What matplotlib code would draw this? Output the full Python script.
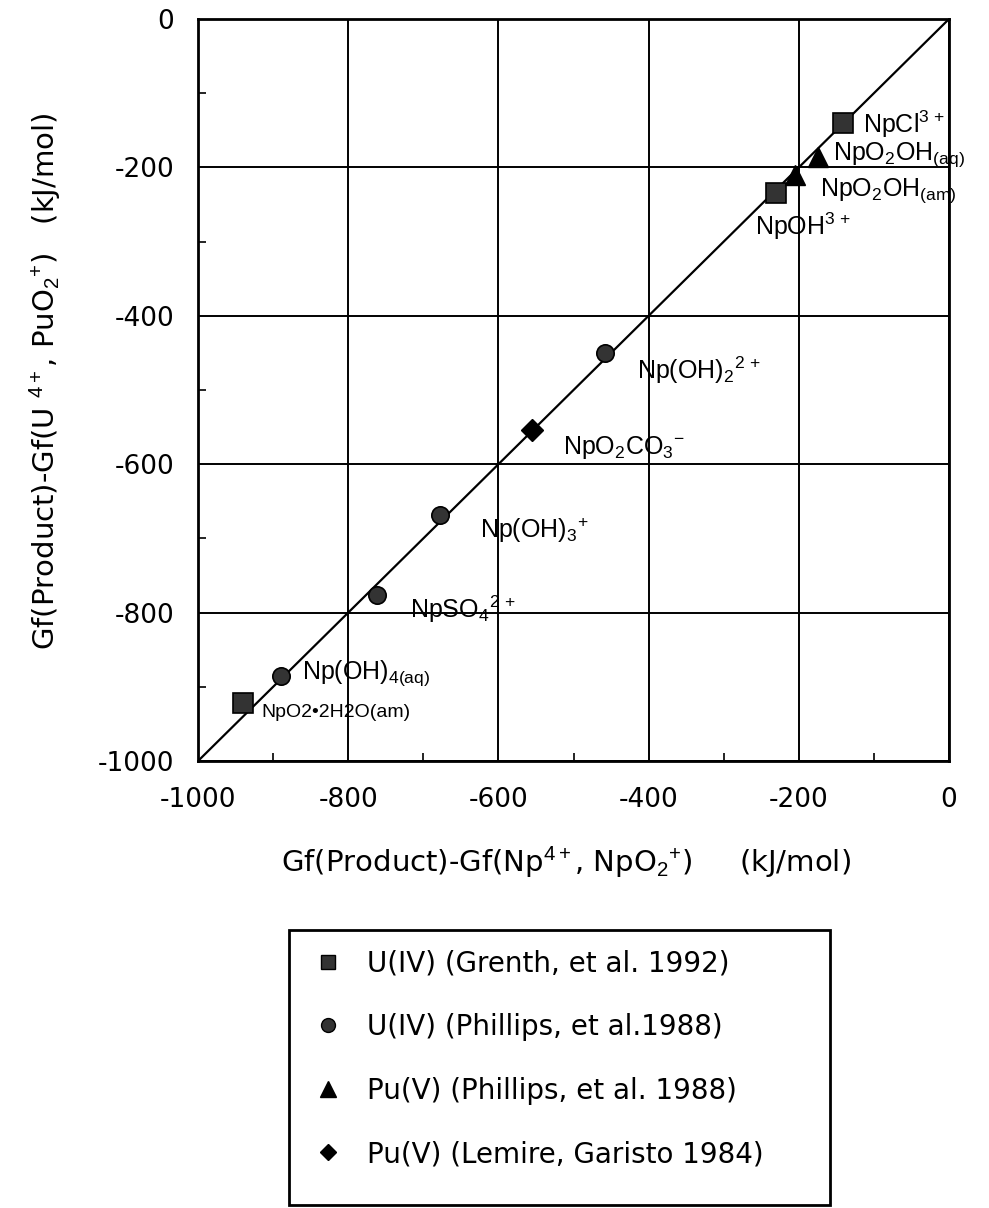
import numpy as np
import matplotlib
matplotlib.use("Agg")
import matplotlib.pyplot as plt
from matplotlib.lines import Line2D
from matplotlib.patches import Rectangle
from matplotlib.ticker import MultipleLocator

plt.rcParams['font.family'] = ['DejaVu Sans']
plt.rcParams['axes.unicode_minus'] = False
plt.rcParams['mathtext.fontset'] = 'custom'
plt.rcParams['mathtext.rm'] = 'Liberation Sans'
plt.rcParams['mathtext.it'] = 'Liberation Sans'

# data (kJ/mol)
u4_grenth_x = [-141, -230, -940]
u4_grenth_y = [-140, -235, -922]
u4_phillips_x = [-458, -678, -762, -890]
u4_phillips_y = [-450, -668, -776, -885]
pu5_phillips_x = [-174, -205]
pu5_phillips_y = [-186, -210]
pu5_lemire_x = [-555]
pu5_lemire_y = [-554]

labels = ["NpCl$^{3\\,+}$", "NpO$_2$OH$_{(aq)}$", "NpO$_2$OH$_{(am)}$", "NpOH$^{3\\,+}$",
          "Np(OH)$_2$$^{2\\,+}$", "NpO$_2$CO$_3$$^{-}$", "Np(OH)$_3$$^{+}$", "NpSO$_4$$^{2\\,+}$",
          "Np(OH)$_{4(aq)}$", "NpO2•2H2O(am)"]
label_x = [-115, -154, -172, -258, -415, -514, -624, -718, -862, -915]
label_y = [-142, -183, -232, -279, -473, -577, -689, -795, -882, -935]

legend_labels = ["U(IV) (Grenth, et al. 1992)", "U(IV) (Phillips, et al.1988)",
                 "Pu(V) (Phillips, et al. 1988)", "Pu(V) (Lemire, Garisto 1984)"]

fig = plt.figure(figsize=(9.89, 12.08), dpi=100)
ax = fig.add_axes([0.2002, 0.370, 0.7594, 0.6143])

ax.plot([-1000, 0], [-1000, 0], color='black', lw=1.6, zorder=2)
ax.plot(u4_grenth_x, u4_grenth_y, 's', ms=14, mfc='#333333', mec='black', mew=1.2, zorder=3)
ax.plot(u4_phillips_x, u4_phillips_y, 'o', ms=12.5, mfc='#333333', mec='black', mew=1.2, zorder=3)
ax.plot(pu5_phillips_x, pu5_phillips_y, '^', ms=15, color='black', zorder=3)
ax.plot(pu5_lemire_x, pu5_lemire_y, 'D', ms=11, color='black', zorder=3)

for t, x, y in zip(labels, label_x, label_y):
    fs = 14 if t.startswith("NpO2•") else 18
    ax.text(x, y, t, fontsize=fs, va='center', ha='left', family='Liberation Sans', zorder=4)

ax.set_xlim(-1000, 0)
ax.set_ylim(-1000, 0)
ax.xaxis.set_major_locator(MultipleLocator(200))
ax.yaxis.set_major_locator(MultipleLocator(200))
ax.yaxis.set_minor_locator(MultipleLocator(100))
ax.xaxis.set_minor_locator(MultipleLocator(100))
ax.grid(True, which='major', color='black', lw=1.4)
ax.tick_params(which='major', length=0, labelsize=19)
ax.tick_params(axis='x', which='major', pad=19)
ax.tick_params(axis='y', which='major', pad=17)
ax.tick_params(which='minor', direction='in', length=6, width=1.2)
for s in ax.spines.values():
    s.set_linewidth(2.0)

ax.set_xlabel("Gf(Product)-Gf(Np$^{4+}$, NpO$_2$$^{+}$)     (kJ/mol)", fontsize=21)
ax.set_ylabel("Gf(Product)-Gf(U $^{4+}$, PuO$_2$$^{+}$)   (kJ/mol)", fontsize=21)
ax.xaxis.set_label_coords(0.49, -0.113)
ax.yaxis.set_label_coords(-0.18, 0.512)

handles = [
    Line2D([], [], ls='none', marker='s', ms=10, mfc='#333333', mec='black'),
    Line2D([], [], ls='none', marker='o', ms=10, mfc='#333333', mec='black'),
    Line2D([], [], ls='none', marker='^', ms=11, color='black'),
    Line2D([], [], ls='none', marker='D', ms=8, color='black'),
]
leg = fig.legend(handles, legend_labels, loc='upper left',
                 bbox_to_anchor=(0.298, 0.2301), fontsize=20, frameon=False,
                 handlelength=1.0, handletextpad=0.9, labelspacing=1.28, borderpad=0.2)
fig.patches.append(Rectangle((0.2922, 0.0025), 0.547, 0.2276, transform=fig.transFigure,
                             fill=False, edgecolor='black', lw=2.0))

fig.savefig("out.png", dpi=100)
